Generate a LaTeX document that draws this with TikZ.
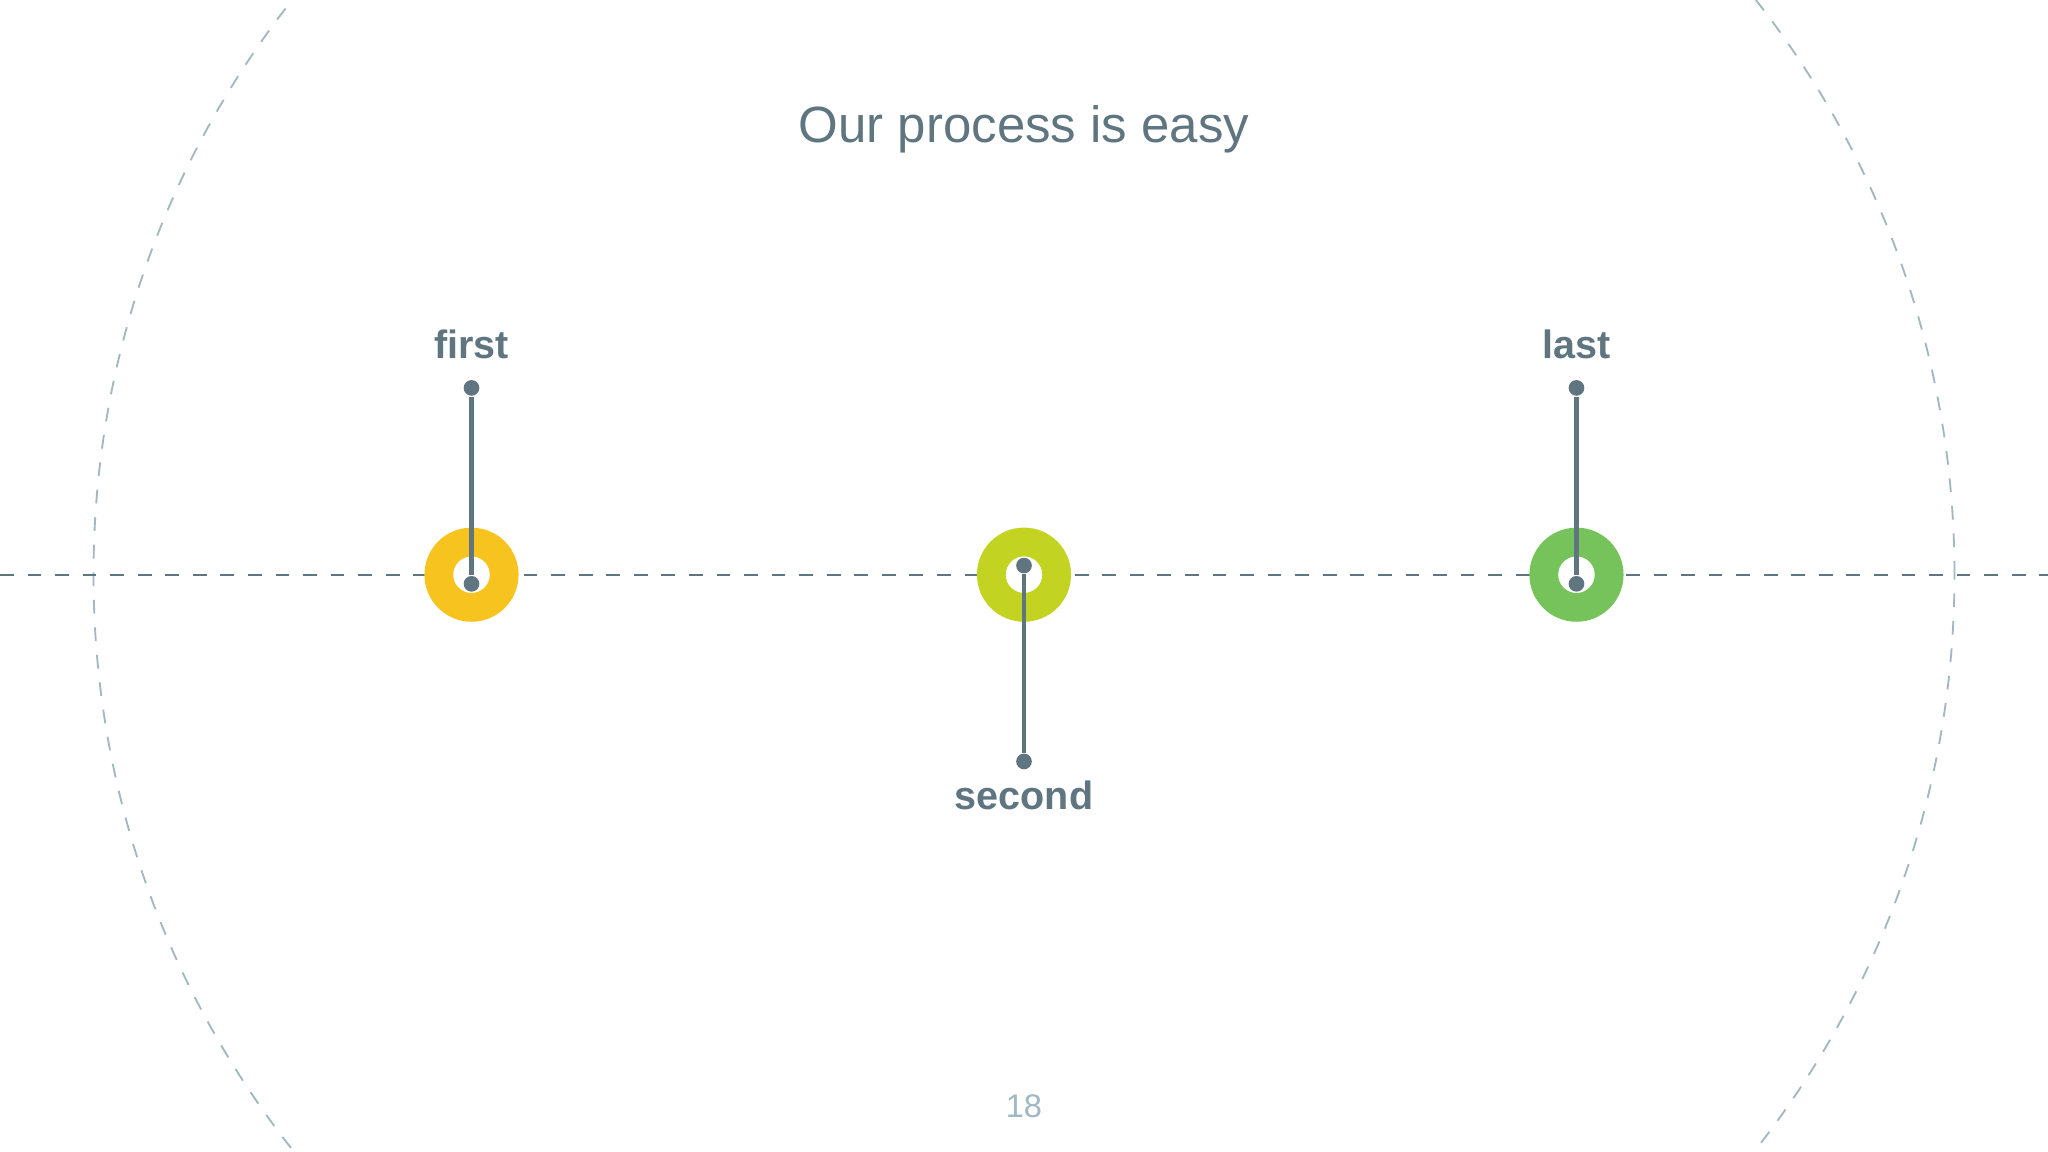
\documentclass[tikz,border=0pt]{standalone}
\usepackage{fontspec}
\setmainfont{Liberation Sans}
\definecolor{slate}{HTML}{5F7580}
\definecolor{ringA}{HTML}{F7C41F}
\definecolor{ringB}{HTML}{C3D321}
\definecolor{ringC}{HTML}{77C35B}
\definecolor{faint}{HTML}{A3B8BE}
\definecolor{pagenum}{HTML}{9FB8C4}
\begin{document}
\begin{tikzpicture}[x=0.01cm,y=-0.01cm,
  ring/.style={circle,minimum size=0.72cm,inner sep=0pt,line width=0.22cm,draw=#1,fill=white,inner sep=0pt,minimum size=0.5cm},
  dotnode/.style={circle,fill=slate,inner sep=0pt,minimum size=0.12cm},
  stem/.style={draw=slate,line width=0.9pt},
  lbl/.style={text=slate,font=\fontsize{8.6pt}{10pt}\selectfont\bfseries}]
\fill[white] (0,0) rectangle (1568,882);
\useasboundingbox (0,0) rectangle (1568,882);
\begin{scope}
\clip (0,0) rectangle (1568,882);
\draw[faint,dashed,line width=0.4pt] (784,440) circle[radius=7.12cm];
\end{scope}
\coordinate (L) at (0,440);
\coordinate (R) at (1568,440);
\draw[slate,dashed,line width=0.4pt] (L) -- (R);
\node[ring=ringA] (r1) at (361,440) {};
\node[ring=ringB] (r2) at (784,440) {};
\node[ring=ringC] (r3) at (1207,440) {};
\node[dotnode] (t1) at (361,297) {};
\node[dotnode] (b1) at (361,447) {};
\node[dotnode] (t2) at (784,433) {};
\node[dotnode] (b2) at (784,583) {};
\node[dotnode] (t3) at (1207,297) {};
\node[dotnode] (b3) at (1207,447) {};
\draw[stem] (t1) -- (b1);
\draw[stem] (t2) -- (b2);
\draw[stem] (t3) -- (b3);
\node[lbl] (l1) at (361,264) {first};
\node[lbl] (l2) at (784,609) {second};
\node[lbl] (l3) at (1207,264) {last};
\node[text=slate,font=\fontsize{11.1pt}{13pt}\selectfont] (title) at (784,99) {Our process is easy};
\node[text=pagenum,font=\fontsize{7.1pt}{9pt}\selectfont] (pg) at (784,847) {18};
\end{tikzpicture}
\end{document}
